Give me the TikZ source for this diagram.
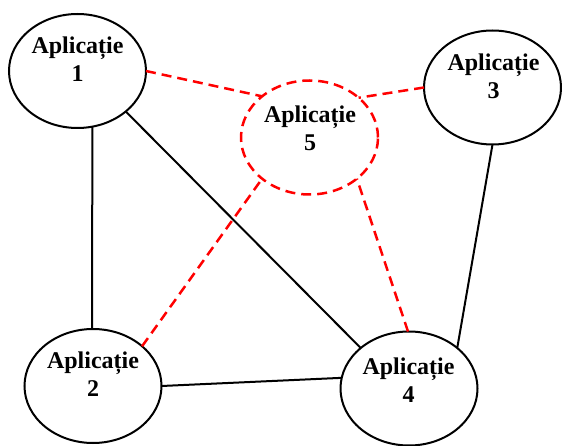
\documentclass[tikz,border=0pt]{standalone}
\usepackage{fontspec}
\setmainfont{Liberation Serif}
\usetikzlibrary{shapes.geometric}
\definecolor{linkred}{RGB}{255,0,0}
\tikzset{
  app/.style={ellipse, draw=black, line width=2pt, minimum width=137pt,
    minimum height=114pt, inner sep=0pt, outer sep=0pt},
  appdashed/.style={app, draw=linkred, line width=2.5pt,
    dash pattern=on 10pt off 6pt},
  apptext/.style={font=\bfseries\fontsize{24}{28}\selectfont, align=center,
    inner sep=0pt},
  link/.style={draw=black, line width=2pt},
  redlink/.style={draw=linkred, line width=2.5pt, dash pattern=on 10pt off 6pt}
}
\begin{document}
\begin{tikzpicture}[x=1pt, y=-1pt]
  \useasboundingbox (0,0) rectangle (562,446);
  % application ellipses
  \node[app] (e1) at (77.5,71) {};
  \node[app] (e2) at (93,386) {};
  \node[app] (e3) at (492.5,87.5) {};
  \node[app] (e4) at (409,388.5) {};
  \node[appdashed] (e5) at (309.5,137.5) {};
  % labels
  \node[apptext] (t1) at (77.5,58.9) {Aplicație\\1};
  \node[apptext] (t2) at (93,373.9) {Aplicație\\2};
  \node[apptext] (t3) at (493.5,75.9) {Aplicație\\3};
  \node[apptext] (t4) at (408.5,379.9) {Aplicație\\4};
  \node[apptext] (t5) at (310,127.9) {Aplicație\\5};
  % direct links
  \draw[link] (e1.-75) -- (e2.91);
  \draw[link] (e1.-40) -- (e4.140);
  \draw[link] (e2.0) -- (e4.171.6);
  \draw[link] (e3.-90) -- (e4.40.5);
  % links through application 5
  \draw[redlink] (e1.0) -- (e5.139.5);
  \draw[redlink] (e3.180) -- (e5.39.2);
  \draw[redlink] (e2.39.2) -- (e5.221.5);
  \draw[redlink] (e4.91) -- (e5.-41.3);
\end{tikzpicture}
\end{document}
